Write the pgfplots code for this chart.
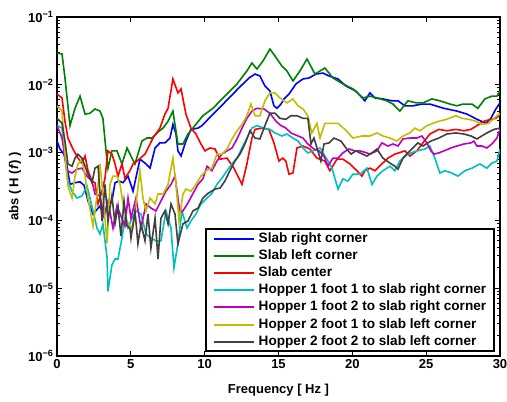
\documentclass[border=0pt]{standalone}
\usepackage{fontspec}
\setmainfont{Liberation Sans}
\usepackage{pgfplots}
\pgfplotsset{compat=1.18}
\definecolor{mblue}{rgb}{0,0,1}
\definecolor{mgreen}{rgb}{0,0.5,0}
\definecolor{mred}{rgb}{1,0,0}
\definecolor{mcyan}{rgb}{0,0.75,0.75}
\definecolor{mmag}{rgb}{0.75,0,0.75}
\definecolor{myel}{rgb}{0.75,0.75,0}
\definecolor{mgray}{rgb}{0.25,0.25,0.25}
\begin{document}
\begin{tikzpicture}
\path[use as bounding box] (-57pt,-46pt) rectangle (450pt,356pt);
\begin{axis}[
  at={(0pt,0pt)}, anchor=south west,
  width=443pt, height=339pt, scale only axis,
  xmin=0, xmax=30, ymin=1e-6, ymax=1e-1,
  ymode=log,
  xtick={0,5,10,15,20,25,30},
  xticklabels={0,5,10,15,20,25,30},
  ytick={1e-6,1e-5,1e-4,1e-3,1e-2,1e-1},
  yticklabels={10\textsuperscript{−6},10\textsuperscript{−5},10\textsuperscript{−4},10\textsuperscript{−3},10\textsuperscript{−2},10\textsuperscript{−1}},
  tick label style={font=\fontsize{13}{15}\selectfont\bfseries},
  tick align=inside,
  major tick length=5pt, minor tick length=3pt,
  tick style={black, line width=0.9pt},
  axis line style={line width=1.6pt},
  xlabel={Frequency [ Hz ]},
  ylabel={abs ( H (\textit{f}) )},
  label style={font=\fontsize{13}{15}\selectfont\bfseries},
  x label style={at={(axis description cs:0.5,-0.1)}, anchor=center},
  y label style={at={(axis description cs:-0.095,0.5)}, anchor=center},
  legend cell align=left,
  legend image code/.code={\draw[#1, line width=2pt] (0pt,0pt) -- (40pt,0pt);},
  legend style={
    at={(axis description cs:0.9887,0.0118)}, anchor=south east,
    draw=black, line width=1.6pt, fill=white,
    font=\fontsize{13.6}{15}\selectfont\bfseries,
    inner xsep=7pt, inner ysep=2pt,
    row sep=2.2pt, column sep=3pt,
    nodes={inner sep=1pt, text height=10pt, text depth=3pt},
  },
]
\addplot[mblue, line width=1.6pt] coordinates {
(0,1.48e-3) (0.2,1.13e-3) (0.47,9.5e-4) (0.68,6.3e-4) (0.88,3.4e-4) (1.22,3.6e-4) (1.56,3.7e-4) (1.83,3.3e-4) (2.1,1.93e-4) (2.44,1.24e-4) (2.91,1.63e-4) (3.18,1.16e-4) (3.45,1.75e-4) (3.72,1.93e-4) (3.93,3.6e-4) (4.2,3.8e-4) (4.47,3.6e-4) (4.81,4.5e-4) (5.15,2.7e-4) (5.62,8.0e-4) (5.96,7.0e-4) (6.3,5.9e-4) (6.64,1.17e-3) (6.97,1.39e-3) (7.31,1.39e-3) (7.65,1.64e-3) (7.85,2.6e-3) (8.06,1.88e-3) (8.19,1.06e-3) (8.4,8.9e-4) (8.73,1.48e-3) (9.07,2.2e-3) (9.55,2.3e-3) (9.82,2.5e-3) (10.29,3.2e-3) (10.97,4.5e-3) (11.65,6.4e-3) (12.32,9.0e-3) (13.0,1.26e-2) (13.41,1.44e-2) (13.74,1.35e-2) (14.08,9.6e-3) (14.42,8.1e-3) (14.69,4.9e-3) (14.9,4.5e-3) (15.17,5.2e-3) (15.37,6.2e-3) (15.71,7.3e-3) (16.18,1.03e-2) (16.66,1.22e-2) (17.06,1.26e-2) (17.54,1.44e-2) (18.01,1.49e-2) (18.42,1.35e-2) (19.03,1.22e-2) (19.57,9.6e-3) (20.24,8.1e-3) (20.85,5.8e-3) (21.19,7.6e-3) (21.53,6.4e-3) (22.07,6.2e-3) (22.68,5.8e-3) (23.09,5.8e-3) (23.56,4.9e-3) (24.1,4.9e-3) (24.71,5.2e-3) (25.25,5.2e-3) (26.2,4.5e-3) (27.08,4.1e-3) (27.76,3.7e-3) (28.44,3.1e-3) (29.05,2.7e-3) (29.38,3.2e-3) (29.72,4.4e-3) (30,5.4e-3)
};
\addlegendentry{Slab right corner}
\addplot[mgreen, line width=1.6pt] coordinates {
(0,2.94e-2) (0.34,2.85e-2) (0.54,1.26e-2) (0.88,2.5e-3) (1.22,4.5e-3) (1.56,6.8e-3) (1.9,3.7e-3) (2.23,3.8e-3) (2.57,4.4e-3) (2.91,4.1e-3) (3.11,3.2e-3) (3.32,1.06e-3) (3.45,5.9e-4) (3.72,1.06e-3) (4.06,1.06e-3) (4.4,6.8e-4) (4.74,1.17e-3) (5.08,8.3e-4) (5.28,6.8e-4) (5.48,9.5e-4) (5.75,1.48e-3) (6.09,1.64e-3) (6.43,1.64e-3) (6.77,1.95e-3) (7.18,2.3e-3) (7.52,2.9e-3) (7.85,4.1e-3) (8.19,1.34e-3) (8.53,1.34e-3) (8.87,1.88e-3) (9.34,2.5e-3) (9.88,3.5e-3) (10.56,4.5e-3) (11.24,6.4e-3) (12.19,1.03e-2) (12.86,1.6e-2) (13.2,2.1e-2) (13.54,1.71e-2) (13.95,2.25e-2) (14.42,3.37e-2) (14.76,2.66e-2) (15.23,1.89e-2) (15.57,1.6e-2) (15.98,1.14e-2) (16.45,1.6e-2) (16.93,2.4e-2) (17.47,1.44e-2) (18.14,1.77e-2) (18.69,1.26e-2) (19.36,1.03e-2) (20.04,8.7e-3) (20.72,6.4e-3) (21.19,6.8e-3) (21.67,6.4e-3) (22.34,5.8e-3) (22.75,5.2e-3) (23.22,4.1e-3) (23.76,5.8e-3) (24.37,5.4e-3) (24.78,5.4e-3) (25.39,6.2e-3) (25.93,5.8e-3) (26.61,5.2e-3) (27.08,4.9e-3) (27.49,5.2e-3) (28.1,5.2e-3) (28.5,4.5e-3) (28.98,6.2e-3) (29.45,6.8e-3) (29.79,6.8e-3) (30,8.1e-3)
};
\addlegendentry{Slab left corner}
\addplot[mred, line width=1.6pt] coordinates {
(0,7.3e-3) (0.34,6.4e-3) (0.54,2.9e-3) (0.74,1.64e-3) (1.08,1.13e-3) (1.42,8.3e-4) (1.69,7.0e-4) (1.9,8.9e-4) (2.1,5.4e-4) (2.37,3.8e-4) (2.57,3.6e-4) (2.78,1.75e-4) (3.05,2.7e-4) (3.25,4.2e-4) (3.45,1.06e-3) (3.72,9.5e-4) (3.93,6.8e-4) (4.13,4.5e-4) (4.4,6.8e-4) (4.6,4.2e-4) (4.94,5.4e-4) (5.15,6.8e-4) (5.42,7.5e-4) (5.96,9.5e-4) (6.5,1.64e-3) (6.97,2.3e-3) (7.31,3.7e-3) (7.52,4.5e-3) (7.85,1.22e-2) (8.19,7.6e-3) (8.4,8.7e-3) (8.73,3.7e-3) (9.07,2.3e-3) (9.41,1.88e-3) (9.75,1.34e-3) (10.02,1.06e-3) (10.36,1.17e-3) (10.7,1.13e-3) (11.04,8.0e-4) (11.51,8.3e-4) (11.98,5.9e-4) (12.53,3.4e-4) (12.86,6.8e-4) (13.2,1.64e-3) (13.41,2.2e-3) (13.88,2.3e-3) (14.35,2.2e-3) (14.69,1.39e-3) (15.03,7.5e-4) (15.3,8.3e-4) (15.5,7.5e-4) (15.71,4.8e-4) (15.98,5.0e-4) (16.25,1.17e-3) (16.66,1.25e-3) (17.13,1.13e-3) (17.6,8.3e-4) (18.14,7.5e-4) (18.48,5.4e-4) (18.96,8.0e-4) (19.36,8.0e-4) (19.84,6.8e-4) (20.31,5.4e-4) (20.65,4.5e-4) (20.85,5.4e-4) (21.19,5.9e-4) (21.53,5.4e-4) (22.0,6.8e-4) (22.41,8.3e-4) (22.88,9.5e-4) (23.56,1.06e-3) (23.9,8.9e-4) (24.37,1.06e-3) (24.78,1.39e-3) (25.25,1.88e-3) (25.86,2.2e-3) (26.4,2.1e-3) (27.01,2.2e-3) (27.56,2.1e-3) (28.03,2.2e-3) (28.44,2.5e-3) (28.91,2.9e-3) (29.38,3.1e-3) (29.72,3.2e-3) (30,3.7e-3)
};
\addlegendentry{Slab center}
\addplot[mcyan, line width=1.6pt] coordinates {
(0,2.5e-3) (0.34,2.3e-3) (0.54,8.3e-4) (0.74,3.8e-4) (1.02,2.7e-4) (1.35,2.14e-4) (1.69,2.3e-4) (2.03,3.2e-4) (2.23,2.14e-4) (2.44,1.38e-4) (2.71,7.7e-5) (2.91,6.3e-5) (3.11,8.9e-5) (3.39,2.8e-5) (3.45,9e-6) (3.72,2.2e-5) (3.93,2.7e-5) (4.13,2.7e-5) (4.4,5.5e-5) (4.6,1.08e-4) (4.81,7.7e-5) (5.08,1.08e-4) (5.35,1.38e-4) (5.69,1.24e-4) (6.03,6.3e-5) (6.36,5.5e-5) (6.7,5.0e-5) (7.04,5.0e-5) (7.38,1.38e-4) (7.72,7.7e-5) (7.92,2.0e-5) (8.19,4.5e-5) (8.46,1.38e-4) (8.8,7.7e-5) (9.07,9.8e-5) (9.41,1.24e-4) (9.75,1.75e-4) (10.16,2.14e-4) (10.49,2.5e-4) (10.83,3.4e-4) (11.17,4.2e-4) (11.51,5.4e-4) (11.85,6.8e-4) (12.19,8.3e-4) (12.53,1.17e-3) (12.86,1.64e-3) (13.2,2.3e-3) (13.54,2.5e-3) (14.02,2.3e-3) (14.42,2.2e-3) (14.76,1.95e-3) (15.23,1.76e-3) (15.57,1.88e-3) (15.98,1.64e-3) (16.32,1.48e-3) (16.66,1.17e-3) (16.99,9.9e-4) (17.33,1.06e-3) (17.81,1.17e-3) (18.28,8.0e-4) (18.62,5.9e-4) (19.03,2.9e-4) (19.36,4.1e-4) (19.7,3.8e-4) (20.04,4.8e-4) (20.51,4.8e-4) (20.99,5.9e-4) (21.33,3.4e-4) (21.67,4.5e-4) (22.07,5.4e-4) (22.55,6.3e-4) (22.88,5.4e-4) (23.22,7.5e-4) (23.76,9.5e-4) (24.37,1.06e-3) (24.92,1.13e-3) (25.25,1.25e-3) (25.59,8.3e-4) (25.93,5.0e-4) (26.27,5.4e-4) (26.74,5.0e-4) (27.15,4.5e-4) (27.62,5.4e-4) (28.1,5.9e-4) (28.64,6.8e-4) (29.11,5.9e-4) (29.45,7.0e-4) (29.79,7.5e-4) (30,1.13e-3)
};
\addlegendentry{Hopper 1 foot 1 to slab right corner}
\addplot[mmag, line width=1.6pt] coordinates {
(0,2.5e-3) (0.34,1.64e-3) (0.68,5.4e-4) (1.02,5.0e-4) (1.35,5.7e-4) (1.69,5.9e-4) (2.03,4.5e-4) (2.37,3.8e-4) (2.57,2.45e-4) (2.91,2.3e-4) (3.18,1.16e-4) (3.45,1.93e-4) (3.79,7.7e-5) (4.06,1.63e-4) (4.33,1.16e-4) (4.6,8.3e-5) (4.81,2.14e-4) (5.01,1.08e-4) (5.35,2.14e-4) (5.69,7.7e-5) (6.03,1.75e-4) (6.36,1.52e-4) (6.7,1.38e-4) (7.04,1.93e-4) (7.38,2.7e-4) (7.72,3.4e-4) (7.99,4.5e-4) (8.33,1.29e-4) (8.53,1.38e-4) (8.87,1.81e-4) (9.21,2.5e-4) (9.55,3.4e-4) (9.88,4.1e-4) (10.16,6.3e-4) (10.49,5.4e-4) (10.83,7.5e-4) (11.17,9.5e-4) (11.51,1.06e-3) (11.85,1.17e-3) (12.19,1.59e-3) (12.53,2.3e-3) (12.86,3.2e-3) (13.2,4.1e-3) (13.54,4.5e-3) (14.02,4.4e-3) (14.42,3.8e-3) (14.83,2.9e-3) (15.17,2.5e-3) (15.5,2.3e-3) (15.84,1.95e-3) (16.32,1.76e-3) (16.66,1.64e-3) (16.99,1.34e-3) (17.4,1.13e-3) (17.74,1.06e-3) (18.08,8.9e-4) (18.35,6.3e-4) (18.69,8.3e-4) (19.03,8.3e-4) (19.36,9.9e-4) (19.77,1.13e-3) (20.18,1.06e-3) (20.51,1.06e-3) (20.99,9.9e-4) (21.19,9.5e-4) (21.67,1.06e-3) (22.0,1.39e-3) (22.41,1.25e-3) (22.75,1.34e-3) (23.09,1.25e-3) (23.43,1.59e-3) (23.9,1.64e-3) (24.37,1.64e-3) (24.71,1.76e-3) (25.05,1.39e-3) (25.32,1.06e-3) (25.53,9.5e-4) (25.86,9.9e-4) (26.2,1.06e-3) (26.68,1.17e-3) (27.08,1.25e-3) (27.56,1.34e-3) (28.03,1.39e-3) (28.23,1.48e-3) (28.44,1.25e-3) (28.77,1.25e-3) (29.11,1.17e-3) (29.45,1.34e-3) (29.79,1.64e-3) (30,2.2e-3)
};
\addlegendentry{Hopper 1 foot 2 to slab right corner}
\addplot[myel, line width=1.6pt] coordinates {
(0,4.9e-3) (0.34,4.1e-3) (0.54,9.5e-4) (0.74,3.2e-4) (1.02,2.14e-4) (1.22,4.5e-4) (1.42,6.8e-4) (1.69,8.0e-4) (1.9,4.5e-4) (2.1,2.14e-4) (2.44,8.3e-5) (2.71,2.3e-4) (2.91,6.8e-4) (3.11,2.45e-4) (3.39,4.6e-5) (3.59,3.4e-4) (3.79,4.5e-4) (4.06,4.5e-4) (4.27,3.4e-4) (4.47,1.75e-4) (4.74,9.8e-5) (4.94,8.3e-5) (5.15,7.7e-5) (5.35,1.75e-4) (5.62,5.4e-4) (5.82,2.14e-4) (6.03,1.38e-4) (6.3,2.14e-4) (6.64,1.75e-4) (6.84,2.45e-4) (7.18,2.45e-4) (7.52,3.4e-4) (7.85,8.3e-4) (8.06,3.4e-4) (8.26,9.8e-5) (8.53,2.45e-4) (8.73,2.9e-4) (9.07,2.7e-4) (9.41,3.4e-4) (9.75,4.5e-4) (10.09,5.4e-4) (10.49,5.9e-4) (10.83,9.5e-4) (11.17,9.5e-4) (11.51,1.13e-3) (11.85,1.59e-3) (12.19,2.1e-3) (12.53,2.6e-3) (12.86,3.5e-3) (13.13,5.2e-3) (13.41,3.5e-3) (13.74,3.5e-3) (14.08,5.8e-3) (14.42,7.6e-3) (14.76,7.6e-3) (15.1,6.4e-3) (15.57,5.4e-3) (15.98,6.2e-3) (16.32,4.9e-3) (16.66,4.4e-3) (16.99,3.5e-3) (17.26,1.95e-3) (17.6,2.7e-3) (17.81,1.64e-3) (18.14,2.7e-3) (18.62,2.7e-3) (19.03,2.7e-3) (19.5,2.2e-3) (20.04,1.64e-3) (20.65,1.76e-3) (21.19,1.76e-3) (21.67,1.95e-3) (22.07,1.76e-3) (22.55,1.64e-3) (23.02,1.48e-3) (23.43,1.76e-3) (23.9,1.95e-3) (24.24,2.3e-3) (24.58,2.1e-3) (25.05,2.5e-3) (25.46,2.7e-3) (25.86,2.9e-3) (26.4,3.1e-3) (27.01,3.5e-3) (27.42,3.2e-3) (27.89,3.1e-3) (28.37,2.9e-3) (28.77,2.6e-3) (29.25,2.7e-3) (29.59,3.2e-3) (30,3.8e-3)
};
\addlegendentry{Hopper 2 foot 1 to slab left corner}
\addplot[mgray, line width=1.6pt] coordinates {
(0,3.2e-3) (0.34,2.7e-3) (0.54,1.48e-3) (0.74,6.8e-4) (1.02,6.3e-4) (1.22,8.3e-4) (1.42,9.5e-4) (1.69,8.3e-4) (1.9,6.3e-4) (2.1,4.8e-4) (2.37,3.6e-4) (2.57,5.9e-4) (2.78,6.3e-4) (3.05,9.8e-5) (3.25,3.4e-4) (3.45,9.8e-5) (3.72,2.3e-4) (3.93,8.9e-5) (4.13,1.63e-4) (4.33,5.9e-5) (4.54,1.93e-4) (4.74,8.3e-5) (4.94,7.7e-5) (5.01,5.5e-5) (5.28,1.38e-4) (5.48,4.5e-5) (5.69,8.9e-5) (5.96,5.0e-5) (6.16,1.24e-4) (6.36,3.9e-5) (6.64,1.08e-4) (6.84,2.7e-5) (7.04,1.08e-4) (7.31,1.38e-4) (7.52,8.9e-5) (7.72,1.75e-4) (7.99,1.24e-4) (8.19,4.5e-5) (8.53,8.9e-5) (8.87,9.8e-5) (9.21,1.38e-4) (9.55,1.52e-4) (9.88,2.14e-4) (10.22,2.5e-4) (10.7,2.9e-4) (11.04,3.0e-4) (11.37,3.8e-4) (11.71,5.4e-4) (12.05,7.5e-4) (12.39,9.5e-4) (12.73,1.34e-3) (13.07,2.1e-3) (13.41,1.64e-3) (13.74,1.59e-3) (14.08,2.5e-3) (14.42,3.8e-3) (14.76,3.8e-3) (15.1,3.2e-3) (15.5,3.1e-3) (15.84,3.5e-3) (16.25,3.5e-3) (16.66,3.2e-3) (16.99,3.2e-3) (17.2,1.34e-3) (17.4,1.64e-3) (17.67,1.06e-3) (17.87,7.5e-4) (18.08,1.34e-3) (18.42,1.39e-3) (18.75,1.64e-3) (19.23,1.48e-3) (19.57,1.17e-3) (19.91,9.5e-4) (20.24,1.06e-3) (20.51,9.9e-4) (20.99,8.9e-4) (21.33,9.9e-4) (21.67,1.13e-3) (22.07,8.3e-4) (22.55,7.0e-4) (22.88,6.3e-4) (23.09,5.7e-4) (23.43,8.3e-4) (23.76,9.9e-4) (24.1,1.17e-3) (24.44,1.39e-3) (24.78,1.25e-3) (25.32,1.48e-3) (25.86,1.64e-3) (26.4,1.88e-3) (27.01,1.95e-3) (27.56,1.88e-3) (28.03,1.76e-3) (28.44,1.59e-3) (28.77,1.76e-3) (29.11,1.95e-3) (29.59,2.2e-3) (30,2.3e-3)
};
\addlegendentry{Hopper 2 foot 2 to slab left corner}
\end{axis}
\end{tikzpicture}
\end{document}
